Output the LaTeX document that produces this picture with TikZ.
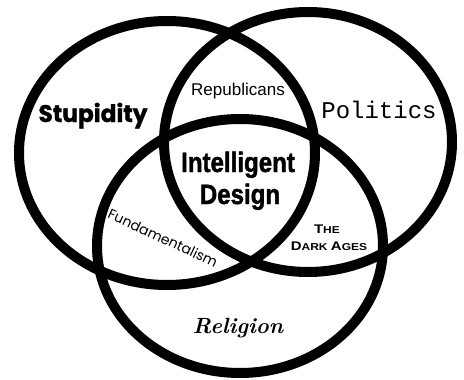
\documentclass[tikz,border=0pt]{standalone}
\usepackage{fontspec}
\usepackage{graphicx}
\newfontfamily\stupfont{Poppins}[FakeBold=1.2]
\newfontfamily\repfont{Liberation Sans}
\newfontfamily\idfont{Liberation Sans}[FakeBold=1.6]
\newfontfamily\polfont{Liberation Mono}
\newfontfamily\fundfont{Poppins}
\newcommand{\bigsc}[1]{{\fontsize{12.5}{14}\selectfont #1}}
\newcommand{\smlsc}[1]{{\fontsize{10}{14}\selectfont #1}}
\begin{document}
\begin{tikzpicture}[x=1pt,y=-1pt,
  ring/.style={line width=10pt,black},
  lbl/.style={anchor=base,inner sep=0pt,text=black}]
\useasboundingbox (0,0) rectangle (464,380);
\fill[white] (0,0) rectangle (464,380);
\draw[ring] (167,153) ellipse [x radius=148, y radius=132];
\draw[ring] (308,142) ellipse [x radius=144, y radius=130];
\draw[ring] (240,246) ellipse [x radius=143, y radius=127];

\node[lbl,font=\stupfont\bfseries\fontsize{24}{28}\selectfont] (stup) at (93,122) {\scalebox{0.97}[1]{Stupidity}};
\node[lbl,font=\repfont\fontsize{17}{20}\selectfont] (rep) at (238,95) {Republicans};
\node[lbl,font=\polfont\fontsize{24}{28}\selectfont] (pol) at (379,118) {Politics};
\node[lbl,font=\idfont\bfseries\fontsize{28}{32}\selectfont] (id1) at (238,172) {\scalebox{0.86}[1]{Intelligent}};
\node[lbl,font=\idfont\bfseries\fontsize{28}{32}\selectfont] (id2) at (240,204) {\scalebox{0.86}[1]{Design}};
\node[anchor=center,inner sep=0pt,rotate=-25,font=\fundfont\fontsize{14}{16}\selectfont] (fund) at (163,238) {Fundamentalism};
\node[lbl,font=\repfont\bfseries] (the) at (327,233) {\scalebox{1.2}[1]{\bigsc{T}\smlsc{HE}}};
\node[lbl,font=\repfont\bfseries] (dark) at (329,250) {\scalebox{1.2}[1]{\bigsc{D}\smlsc{ARK} \bigsc{A}\smlsc{GES}}};
\node[lbl,font=\bfseries\itshape\fontsize{22}{26}\selectfont] (rel) at (238,333) {Religion};
\end{tikzpicture}
\end{document}
